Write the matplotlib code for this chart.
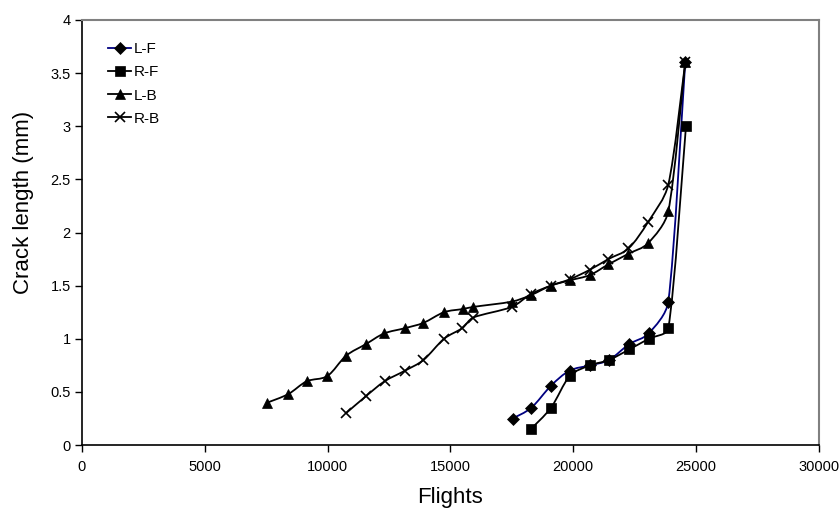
import numpy as np
import matplotlib
matplotlib.use("Agg")
import matplotlib.pyplot as plt
from matplotlib.path import Path
from matplotlib.patches import PathPatch
from matplotlib.lines import Line2D

plt.rcParams['font.family'] = ['Liberation Sans', 'DejaVu Sans']

# crack length readings (flights, mm)
lf_x = [17530, 18290, 19100, 19850, 20680, 21450, 22280, 23070, 23870, 24560]
lf_y = [0.25, 0.35, 0.56, 0.70, 0.75, 0.80, 0.95, 1.05, 1.35, 3.60]

rf_x = [18270, 19090, 19860, 20680, 21450, 22280, 23070, 23870, 24590]
rf_y = [0.15, 0.35, 0.65, 0.75, 0.80, 0.90, 1.00, 1.10, 3.00]

lb_x = [7550, 8400, 9150, 9990, 10750, 11560, 12300, 13150, 13900, 14740,
        15500, 15930, 17500, 18270, 19090, 19860, 20680, 21430, 22250, 23050,
        23870, 24560]
lb_y = [0.40, 0.48, 0.60, 0.65, 0.84, 0.95, 1.05, 1.10, 1.15, 1.25,
        1.28, 1.30, 1.35, 1.41, 1.50, 1.55, 1.60, 1.70, 1.80, 1.90,
        2.20, 3.60]

rb_x = [10750, 11560, 12320, 13150, 13900, 14740, 15480, 15930, 17500, 18270,
        19090, 19860, 20680, 21430, 22250, 23050, 23870, 24560]
rb_y = [0.30, 0.46, 0.60, 0.70, 0.80, 1.00, 1.10, 1.20, 1.30, 1.42,
        1.50, 1.56, 1.65, 1.75, 1.85, 2.10, 2.45, 3.60]

series = [
    ("L-F", lf_x, lf_y, "D", 6, "#000080"),
    ("R-F", rf_x, rf_y, "s", 7, "black"),
    ("L-B", lb_x, lb_y, "^", 7.5, "black"),
    ("R-B", rb_x, rb_y, "x", 7, "black"),
]

# pixel size of one data unit, used so the smoothing works in screen space
SX = 737 / 30000.0
SY = 425 / 4.0


def smooth_path(x, y):
    # Excel-style smoothed line: Catmull-Rom -> cubic Bezier, handles clamped
    p = np.column_stack([np.asarray(x) * SX, np.asarray(y) * SY]).astype(float)
    n = len(p)
    verts = [p[0]]
    codes = [Path.MOVETO]
    for i in range(n - 1):
        p0 = p[i - 1] if i > 0 else p[i]
        p1 = p[i]
        p2 = p[i + 1]
        p3 = p[i + 2] if i + 2 < n else p[i + 1]
        seg = np.hypot(*(p2 - p1))
        t1 = (p2 - p0) / 6.0
        t2 = (p3 - p1) / 6.0
        lim = 0.35 * seg
        if np.hypot(*t1) > lim:
            t1 = t1 / np.hypot(*t1) * lim
        if np.hypot(*t2) > lim:
            t2 = t2 / np.hypot(*t2) * lim
        verts += [p1 + t1, p2 - t2, p2]
        codes += [Path.CURVE4] * 3
    verts = np.array(verts)
    verts[:, 0] /= SX
    verts[:, 1] /= SY
    return Path(verts, codes)


fig = plt.figure(figsize=(8.39, 5.11), dpi=100)
ax = fig.add_axes([0.0977, 0.129, 0.8783, 0.832])

handles = []
for name, x, y, mk, ms, col in series:
    mew = 1.2 if mk == "x" else 0.5
    ax.add_patch(PathPatch(smooth_path(x, y), facecolor="none", edgecolor=col, lw=1.3, zorder=2))
    ax.plot(x, y, linestyle="none", marker=mk, markersize=ms, color="black",
            markeredgewidth=mew, zorder=3)
    handles.append(Line2D([], [], color=col, lw=1.3, marker=mk, markersize=ms,
                          markerfacecolor="black", markeredgecolor="black",
                          markeredgewidth=mew, label=name))

ax.set_xlim(0, 30000)
ax.set_ylim(0, 4)
ax.set_xticks(np.arange(0, 30001, 5000))
ax.set_yticks(np.arange(0, 4.01, 0.5))
ax.set_yticklabels(["0", "0.5", "1", "1.5", "2", "2.5", "3", "3.5", "4"])
ax.tick_params(direction="out", length=5, width=1, labelsize=10.5, pad=3)
ax.tick_params(axis="x", pad=6)

for s in ["top", "right"]:
    ax.spines[s].set_color("#808080")
    ax.spines[s].set_linewidth(1.5)
for s in ["left", "bottom"]:
    ax.spines[s].set_color("black")
    ax.spines[s].set_linewidth(1.2)

ax.set_xlabel("Flights", fontsize=16, labelpad=9)
ax.set_ylabel("Crack length (mm)", fontsize=16)
ax.yaxis.set_label_coords(-0.065, 0.57)

ax.legend(handles=handles, loc="upper left", bbox_to_anchor=(0.017, 0.98),
          frameon=False, fontsize=11, handlelength=1.5, handletextpad=0.15,
          labelspacing=0.6)

fig.savefig("out.png", dpi=100)
